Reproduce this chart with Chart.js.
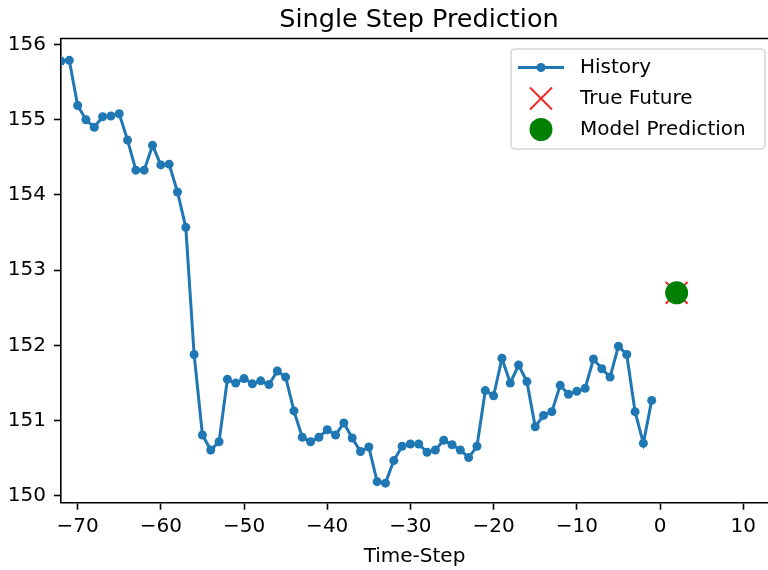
<!DOCTYPE html>
<html>
<head>
<meta charset="utf-8">
<script src="https://cdn.jsdelivr.net/npm/chart.js@4.4.0/dist/chart.umd.min.js"></script>
<style>
  html, body { margin: 0; padding: 0; background: #fff; }
  #wrap { width: 768px; height: 570px; position: relative; }
</style>
</head>
<body>
<div id="wrap"><canvas id="chart"></canvas></div>
<script>
// time steps of the history window
const timeSteps = [-72, -71, -70, -69, -68, -67, -66, -65, -64, -63, -62, -61, -60, -59, -58, -57,
    -56, -55, -54, -53, -52, -51, -50, -49, -48, -47, -46, -45, -44, -43, -42, -41, -40, -39, -38,
    -37, -36, -35, -34, -33, -32, -31, -30, -29, -28, -27, -26, -25, -24, -23, -22, -21, -20, -19,
    -18, -17, -16, -15, -14, -13, -12, -11, -10, -9, -8, -7, -6, -5, -4, -3, -2, -1];

// history values
const history = [155.78, 155.79, 155.19, 155.00, 154.90, 155.04, 155.05, 155.08, 154.73, 154.33,
    154.33, 154.66, 154.40, 154.41, 154.04, 153.57,
    151.88, 150.81, 150.61, 150.72, 151.55, 151.50, 151.56, 151.49, 151.53, 151.48, 151.66, 151.58,
    151.13, 150.78, 150.72, 150.78, 150.88, 150.81, 150.97, 150.77, 150.59, 150.65, 150.19, 150.17,
    150.47, 150.66, 150.69, 150.69, 150.58, 150.61,
    150.74, 150.68, 150.61, 150.51, 150.66, 151.40, 151.33, 151.83, 151.50, 151.74, 151.52, 150.92,
    151.07, 151.12, 151.47, 151.35, 151.39, 151.43, 151.82, 151.69, 151.58, 151.99, 151.88, 151.12,
    150.70, 151.27];

const futureStep = [2];
const trueFuture = [152.70];
const modelPrediction = [152.70];

const xTicks = [-70, -60, -50, -40, -30, -20, -10, 0, 10];
const yTicks = [150, 151, 152, 153, 154, 155, 156];

const FONT = "'DejaVu Sans', sans-serif";
const BLUE = '#1f77b4';
const RED = '#ee2a24';
const GREEN = '#008000';

function toPoints(xs, ys) {
    return xs.map((x, i) => ({ x: x, y: ys[i] }));
}

// 标题、上边框和图例（画在绘图区内）
const decorPlugin = {
    id: 'decor',
    afterDraw(chart) {
        const ctx = chart.ctx;
        const area = chart.chartArea;
        ctx.save();

        // top spine
        ctx.strokeStyle = '#000';
        ctx.lineWidth = 1.6;
        ctx.beginPath();
        ctx.moveTo(area.left - 0.8, area.top);
        ctx.lineTo(area.right, area.top);
        ctx.stroke();

        // title
        ctx.fillStyle = '#000';
        ctx.font = '25.5px ' + FONT;
        ctx.textAlign = 'center';
        ctx.textBaseline = 'alphabetic';
        ctx.fillText('Single Step Prediction', 419, 27);

        // legend box
        const bx = 511, by = 49, bw = 254, bh = 100, r = 4;
        ctx.beginPath();
        ctx.moveTo(bx + r, by);
        ctx.arcTo(bx + bw, by, bx + bw, by + bh, r);
        ctx.arcTo(bx + bw, by + bh, bx, by + bh, r);
        ctx.arcTo(bx, by + bh, bx, by, r);
        ctx.arcTo(bx, by, bx + bw, by, r);
        ctx.closePath();
        ctx.fillStyle = 'rgba(255,255,255,0.8)';
        ctx.fill();
        ctx.strokeStyle = '#d6d6d6';
        ctx.lineWidth = 1.6;
        ctx.stroke();

        const mx = 541;
        const rows = [67.5, 98.5, 129.5];

        // History: line + dot
        ctx.strokeStyle = BLUE;
        ctx.lineWidth = 3;
        ctx.beginPath();
        ctx.moveTo(518, rows[0]);
        ctx.lineTo(564, rows[0]);
        ctx.stroke();
        ctx.fillStyle = BLUE;
        ctx.beginPath();
        ctx.arc(mx, rows[0], 4.5, 0, Math.PI * 2);
        ctx.fill();

        // True Future: x
        ctx.strokeStyle = RED;
        ctx.lineWidth = 2;
        ctx.beginPath();
        ctx.moveTo(mx - 11, rows[1] - 11);
        ctx.lineTo(mx + 11, rows[1] + 11);
        ctx.moveTo(mx - 11, rows[1] + 11);
        ctx.lineTo(mx + 11, rows[1] - 11);
        ctx.stroke();

        // Model Prediction: circle
        ctx.fillStyle = GREEN;
        ctx.beginPath();
        ctx.arc(mx, rows[2], 11.5, 0, Math.PI * 2);
        ctx.fill();

        ctx.fillStyle = '#000';
        ctx.font = '20px ' + FONT;
        ctx.textAlign = 'left';
        ctx.textBaseline = 'middle';
        ctx.fillText('History', 580, rows[0]);
        ctx.fillText('True Future', 580, rows[1]);
        ctx.fillText('Model Prediction', 580, rows[2]);

        ctx.restore();
    }
};

const ctx = document.getElementById('chart');
new Chart(ctx, {
    type: 'line',
    data: {
        datasets: [
            {
                label: 'Model Prediction',
                type: 'scatter',
                data: toPoints(futureStep, modelPrediction),
                pointStyle: 'circle',
                pointRadius: 11.5,
                pointBackgroundColor: GREEN,
                pointBorderWidth: 0,
                order: 0
            },
            {
                label: 'True Future',
                type: 'scatter',
                data: toPoints(futureStep, trueFuture),
                pointStyle: 'crossRot',
                pointRadius: 15.5,
                pointBorderColor: RED,
                pointBorderWidth: 2,
                order: 1
            },
            {
                label: 'History',
                data: toPoints(timeSteps, history),
                borderColor: BLUE,
                borderWidth: 3,
                pointRadius: 4.5,
                pointBackgroundColor: BLUE,
                pointBorderWidth: 0,
                tension: 0,
                clip: 0,
                order: 2
            }
        ]
    },
    options: {
        responsive: true,
        maintainAspectRatio: false,
        animation: false,
        layout: { autoPadding: false, padding: { top: 38.5, left: 0, right: 0, bottom: 0 } },
        plugins: {
            legend: { display: false },
            title: { display: false },
            tooltip: { enabled: false }
        },
        scales: {
            x: {
                type: 'linear',
                min: -72,
                max: 12.98,
                afterBuildTicks(scale) { scale.ticks = xTicks.map(v => ({ value: v })); },
                afterFit(scale) {
                    scale.height = 67.3;
                    scale.paddingLeft = 0;
                    scale.paddingRight = 0;
                },
                grid: { display: true, drawOnChartArea: false, tickLength: 7, tickColor: '#000', tickWidth: 1.6 },
                border: { display: true, color: '#000', width: 1.6 },
                ticks: {
                    color: '#000',
                    font: { family: FONT, size: 20 },
                    padding: 5,
                    maxRotation: 0,
                    callback: v => (v < 0 ? '\u2212' + Math.abs(v) : String(v))
                },
                title: {
                    display: true,
                    text: 'Time-Step',
                    color: '#000',
                    font: { family: FONT, size: 20 },
                    padding: { top: 0, bottom: 1 }
                }
            },
            y: {
                min: 149.91,
                max: 156.08,
                afterBuildTicks(scale) { scale.ticks = yTicks.map(v => ({ value: v })); },
                afterFit(scale) {
                    scale.width = 61;
                    scale.paddingTop = 0;
                    scale.paddingBottom = 0;
                },
                grid: { display: true, drawOnChartArea: false, tickLength: 7, tickColor: '#000', tickWidth: 1.6 },
                border: { display: true, color: '#000', width: 1.6 },
                ticks: {
                    color: '#000',
                    font: { family: FONT, size: 20 },
                    padding: 8
                }
            }
        }
    },
    plugins: [decorPlugin]
});
</script>
</body>
</html>
